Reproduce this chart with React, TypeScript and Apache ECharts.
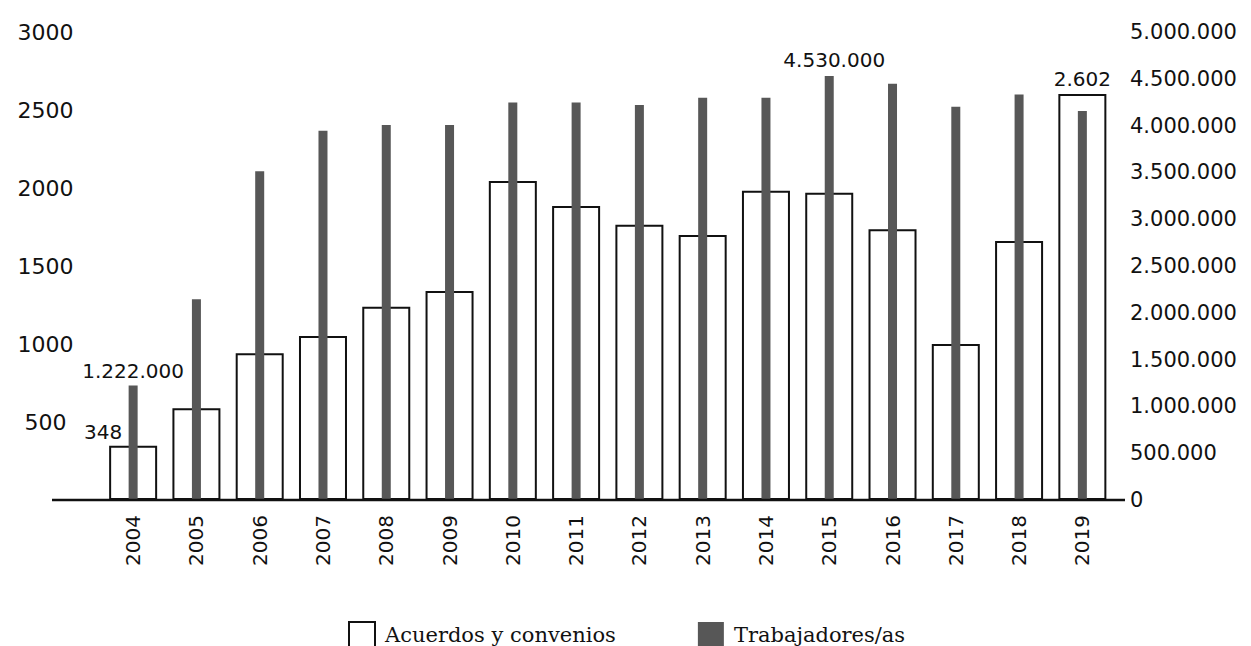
import React, { useEffect, useRef } from "react";
import * as echarts from "echarts";

const years = ["2004", "2005", "2006", "2007", "2008", "2009", "2010", "2011", "2012", "2013", "2014", "2015", "2016", "2017", "2018", "2019"];
const acuerdos = [348, 588, 940, 1051, 1239, 1340, 2045, 1885, 1765, 1699, 1983, 1970, 1735, 1000, 1660, 2602];
const trabajadores = [1222000, 2146000, 3511000, 3944000, 4007000, 4007000, 4248000, 4248000, 4220000, 4298000, 4298000, 4530000, 4447000, 4202000, 4333000, 4156000];
const acuerdosLabelled = [0, 15];
const trabajadoresLabelled = [0, 11];

const dots = (v: number) => String(v).replace(/\B(?=(\d{3})+(?!\d))/g, ".");

export default function App() {
  const ref = useRef<HTMLDivElement>(null);
  useEffect(() => {
    const chart = echarts.init(ref.current!, null, { renderer: "svg" });
    const numFont = "DejaVu Sans";
    const acuerdosData = acuerdos.map((v, i) => {
      if (!acuerdosLabelled.includes(i)) return v;
      return {
        value: v,
        label: {
          show: true,
          position: "top",
          formatter: (p: any) => dots(p.value),
          offset: i === 0 ? [-30, 1] : [0, 0],
          fontFamily: numFont,
          fontSize: 20,
          color: "#111",
        },
      };
    });
    const trabData = trabajadores.map((v, i) => {
      if (!trabajadoresLabelled.includes(i)) return v;
      return {
        value: v,
        label: {
          show: true,
          position: "top",
          formatter: (p: any) => dots(p.value),
          offset: i === 11 ? [5, -1] : [0, 0],
          fontFamily: numFont,
          fontSize: 20,
          color: "#111",
        },
      };
    });
    chart.setOption({
      animation: false,
      backgroundColor: "#fff",
      grid: { left: 101.5, right: 137, top: 32, bottom: 146, containLabel: false },
      legend: {
        data: ["Acuerdos y convenios", "Trabajadores/as"],
        left: 343,
        top: 616,
        icon: "rect",
        itemWidth: 26,
        itemHeight: 26,
        itemGap: 82,
        textStyle: { fontFamily: "DejaVu Serif", fontSize: 21, color: "#111", padding: [0, 0, 0, 5] },
      },
      xAxis: [
        {
          type: "category",
          data: years,
          axisLine: { show: false },
          axisTick: { show: false },
          axisLabel: { rotate: 90, margin: 15, fontFamily: numFont, fontSize: 20, color: "#111" },
        },
        { type: "category", data: years, show: false },
      ],
      yAxis: [
        {
          type: "value",
          min: 0,
          max: 3000,
          interval: 500,
          splitLine: { show: false },
          axisLine: { show: false },
          axisTick: { show: false },
          axisLabel: {
            showMinLabel: false,
            align: "center",
            margin: 56,
            formatter: (v: number) => String(v),
            fontFamily: numFont,
            fontSize: 22,
            color: "#111",
          },
        },
        {
          type: "value",
          min: 0,
          max: 5000000,
          interval: 500000,
          position: "right",
          splitLine: { show: false },
          axisLine: { show: false },
          axisTick: { show: false },
          axisLabel: { margin: 16, formatter: (v: number) => dots(v), fontFamily: numFont, fontSize: 21, color: "#111" },
        },
      ],
      series: [
        {
          name: "Acuerdos y convenios",
          type: "bar",
          xAxisIndex: 0,
          yAxisIndex: 0,
          barWidth: 48,
          data: acuerdosData,
          itemStyle: { color: "#fff", borderColor: "#111", borderWidth: 2 },
        },
        {
          name: "Trabajadores/as",
          type: "bar",
          xAxisIndex: 1,
          yAxisIndex: 1,
          barWidth: 9,
          data: trabData,
          itemStyle: { color: "#575757" },
        },
      ],
      graphic: [
        {
          type: "line",
          z: 100,
          shape: { x1: 52, y1: 500, x2: 1125, y2: 500 },
          style: { stroke: "#111", lineWidth: 2.5 },
        },
      ],
    });
    return () => chart.dispose();
  }, []);
  return <div ref={ref} style={{ position: "fixed", left: 0, top: 0, width: 1251, height: 646 }} />;
}
